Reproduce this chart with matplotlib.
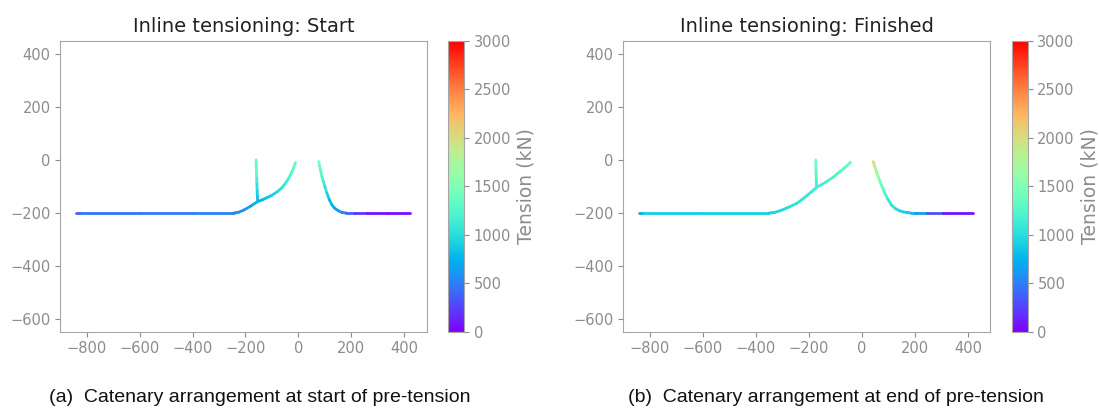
import numpy as np
import matplotlib.pyplot as plt
from matplotlib.collections import LineCollection
from matplotlib.colors import Normalize

# ---- data (x [m], y [m], tension [kN]) ----
# Start of pre-tension
start_left_x = [-840, -825, -600, -400, -244, -225, -206, -180, -154, -135, -118, -100,
                -80, -63, -49, -37, -28, -18, -11]
start_left_y = [-200, -200, -200, -200, -200, -197, -189, -174, -157, -150, -142, -133,
                -120, -106, -88, -70, -52, -30, -10]
start_left_t = [250, 450, 480, 500, 520, 550, 580, 650, 720, 770, 820, 880,
                950, 1030, 1100, 1160, 1220, 1290, 1350]

start_branch_x = [-154, -155, -156, -157, -158, -160]
start_branch_y = [-157, -135, -113, -85, -60, 0]
start_branch_t = [750, 850, 950, 1080, 1200, 1450]

start_right_x = [77, 80, 84, 89, 94, 100, 108, 117, 127, 138, 152, 165, 180, 210, 260, 340, 420]
start_right_y = [-6, -22, -40, -63, -80, -100, -126, -150, -170, -183, -192, -198, -200,
                 -200, -200, -200, -200]
start_right_t = [1450, 1400, 1330, 1250, 1180, 1100, 950, 850, 750, 680, 620, 560, 480,
                 300, 100, 60, 40]

# End of pre-tension
end_left_x = [-840, -825, -600, -350, -330, -309, -280, -246, -228, -209, -190, -171,
              -150, -133, -108, -83, -62, -43]
end_left_y = [-200, -200, -200, -200, -198, -192, -180, -164, -151, -136, -120, -103,
              -92, -82, -65, -44, -27, -9]
end_left_t = [450, 880, 890, 900, 920, 950, 990, 1030, 1055, 1080, 1100, 1120,
              1150, 1170, 1210, 1250, 1290, 1330]

end_branch_x = [-171, -172, -173, -174]
end_branch_y = [-103, -70, -35, 0]
end_branch_t = [1100, 1200, 1320, 1450]

end_right_x = [43, 47, 52, 57, 62, 68, 74, 80, 87, 98, 112, 127, 143, 156, 169, 185,
               200, 244, 306, 420]
end_right_y = [-6, -20, -35, -50, -63, -80, -95, -110, -126, -148, -170, -184, -192,
               -196, -198, -200, -200, -200, -200, -200]
end_right_t = [2000, 1900, 1800, 1700, 1600, 1500, 1400, 1320, 1250, 1150, 1050, 1000,
               950, 920, 900, 830, 750, 500, 120, 40]

panels = [
    ("Inline tensioning: Start", "(a)  Catenary arrangement at start of pre-tension",
     [(start_left_x, start_left_y, start_left_t),
      (start_branch_x, start_branch_y, start_branch_t),
      (start_right_x, start_right_y, start_right_t)]),
    ("Inline tensioning: Finished", "(b)  Catenary arrangement at end of pre-tension",
     [(end_left_x, end_left_y, end_left_t),
      (end_branch_x, end_branch_y, end_branch_t),
      (end_right_x, end_right_y, end_right_t)]),
]

grey = '#8c8c8c'
norm = Normalize(0, 3000)
cmap = plt.get_cmap('rainbow')

fig = plt.figure(figsize=(10.99, 4.09), dpi=100)
W, H = 1099.0, 409.0

# pixel layout of each panel: axes left, axes right, cbar left, cbar right, caption centre
layout = [(60.3, 426.7, 448.3, 464.0, 260), (623.3, 990.4, 1012.1, 1027.6, 836)]
top_px, bot_px = 40.7, 331.7

for (title, caption, lines), (al, ar, cl, cr, capx) in zip(panels, layout):
    ax = fig.add_axes([al / W, 1 - bot_px / H, (ar - al) / W, (bot_px - top_px) / H])
    cax = fig.add_axes([cl / W, 1 - bot_px / H, (cr - cl) / W, (bot_px - top_px) / H])

    for xs, ys, ts in lines:
        pts = np.column_stack([xs, ys])
        segs = np.stack([pts[:-1], pts[1:]], axis=1)
        t = np.asarray(ts, dtype=float)
        lc = LineCollection(segs, cmap=cmap, norm=norm, linewidth=2.0,
                            capstyle='round', joinstyle='round')
        lc.set_array((t[:-1] + t[1:]) / 2)
        ax.add_collection(lc)

    ax.set_xlim(-900, 485)
    ax.set_ylim(-648, 450)
    ax.set_xticks([-800, -600, -400, -200, 0, 200, 400])
    ax.set_yticks([-600, -400, -200, 0, 200, 400])
    ax.set_title(title, fontsize=14, color='#222222')
    ax.tick_params(colors=grey, labelsize=10.5, length=3.5)
    for sp in ax.spines.values():
        sp.set_color('#a6a6a6')

    sm = plt.cm.ScalarMappable(norm=norm, cmap=cmap)
    cb = fig.colorbar(sm, cax=cax, ticks=np.arange(0, 3001, 500))
    cb.outline.set_edgecolor('#a6a6a6')
    cax.tick_params(colors=grey, labelsize=10.5, length=3.5)
    cb.set_label('Tension (kN)', color=grey, fontsize=13.5)

    fig.text(capx / W, 1 - 397 / H, caption, ha='center', va='center',
             fontsize=14, family='Liberation Sans', color='#111111')

fig.savefig('out.png', dpi=100)
